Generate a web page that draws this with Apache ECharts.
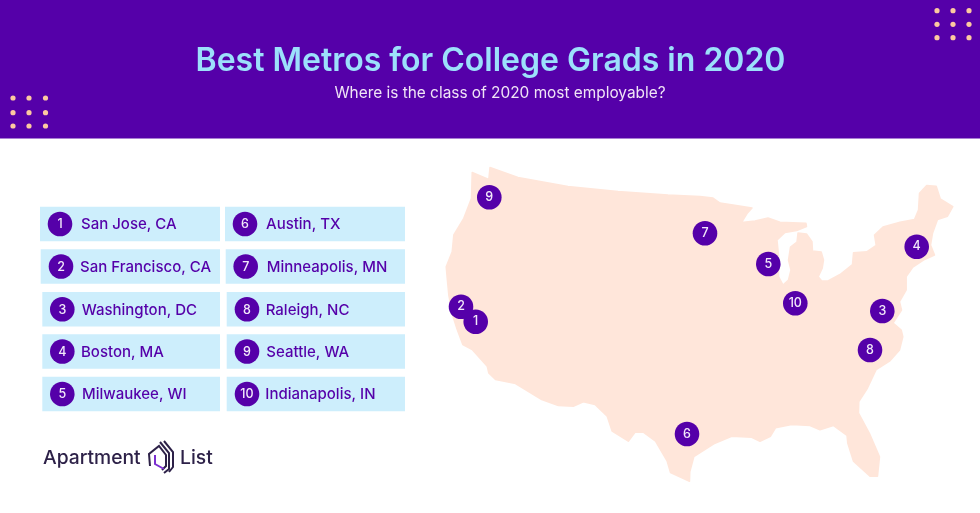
<!DOCTYPE html>
<html>
<head>
    <title>Best Metros for College Grads in 2020</title>
    <meta charset="utf-8">
    <script src="https://cdn.jsdelivr.net/npm/echarts@6/dist/echarts.min.js"></script>
</head>
<body style="margin: 0; background: #fff">
<div id="container" style="width: 980px; height: 513px"></div>
<script type="text/javascript">
var titleText = 'Best Metros for College Grads in 2020';
var subtitleText = 'Where is the class of 2020 most employable?';
var metroRanks = [1, 2, 3, 4, 5, 6, 7, 8, 9, 10];
var metroNames = ['San Jose, CA', 'San Francisco, CA', 'Washington, DC', 'Boston, MA', 'Milwaukee, WI',
    'Austin, TX', 'Minneapolis, MN', 'Raleigh, NC', 'Seattle, WA', 'Indianapolis, IN'];
// where each metro sits on the outline below, same map units as usOutline
var metroMapX = [475.7, 461, 882.3, 916.7, 768.3, 687, 705, 870, 489.3, 795.3];
var metroMapY = [321.7, 306.7, 311, 246.7, 264, 434, 233.3, 350, 197.3, 303.3];

// lower 48 outline, clockwise from Puget Sound
var usOutline = [
    [490,167.5],[518,177.5],[568,186.5],[618,191.5],[668,195],[700,196.5],[713,198],[720,203],[733,205],
    [752,208],[747,213.5],[741.5,222.5],[755,221],[768,218],[780,222.2],[806,223.3],[806.5,226.5],
    [796.7,230.5],[785,232.5],[777,240],[778.5,255],[778.5,276.7],[783,285],[788.5,280],[791,270],[788.5,260],[790.5,247],[797,242],
    [798,233],[806.5,234],[812,241.7],[812.5,251],[821.2,252],[823.5,260],[822.2,268.3],[818.2,276.7],
    [821.7,281],[828,281],[840,274.5],[852.5,264.5],[853.5,252.8],[866.7,251.8],[876.2,245.5],[874.5,235],[883,227],
    [900,222.2],[914.5,219.5],[918.5,210],[919.5,193.3],[926.7,185.5],[936.2,186.2],[940.2,198.8],[952.8,206.7],[947.5,216.2],
    [937.5,219.5],[932.5,233.3],[930.5,245],[934.5,255],[924.5,259.5],[912.5,267.5],[906.2,276.7],[906.2,290],[899.5,301.7],[901.5,310],
    [893,323],[901.2,330],[902.8,336.7],[899.5,350],[889.5,361.2],[876.2,369.5],[867.5,388],[858.8,401.7],[858.5,413],
    [869.5,433.5],[879.5,456.7],[877.5,476.2],[870,476.2],[853.5,461.2],[847.8,443.3],[847,435.5],[833.3,425.5],[820,429.8],
    [810,425.5],[791.7,424.5],[775.5,427.8],[770.5,436.2],[760,441.2],[751.7,437.2],[731.7,436.2],[713.8,443.8],[693.8,456.7],
    [689.8,471.7],[689.5,481.2],[670.5,472.5],[667.2,461.2],[655.5,441.2],[643.3,432.2],[635,432.2],[628.3,441.2],[612.2,431.2],
    [607.2,416.2],[595,404.5],[583.3,401.8],[573.3,406.2],[558.3,405.5],[541.7,399.5],[515.5,383.5],[495.5,379.5],[488.8,373],
    [487.2,366.2],[472.2,349.5],[462.8,344.5],[457.2,329.5],[452.5,315],[448.8,295],[447.2,278.3],[446.2,266.7],[452.2,251.7],
    [453.8,235],[463.8,218.3],[471.5,198.3],[472.2,172.5],[488.8,179.5],[490,167.5]
];

// list rows: left edge of each panel and badge / text starts, they drift a little in the original
var rowTops = [206.7, 249.3, 292, 334.3, 376.7];
var rowHeight = 34.5;
var leftColX = [40, 40.7, 42.3, 42.3, 42.3];
var rightColX = [225, 225.7, 226.7, 226.7, 226.7];
var badgeX = [60, 61, 62.3, 62.3, 62.3, 245, 245.7, 247, 247, 247];
var labelX = [81, 80, 81.7, 81, 82, 266, 266.7, 265.7, 266.3, 265.3];

var PURPLE = '#5500a9';
var font = 'Inter, sans-serif';

echarts.registerMap('lower48', {
    type: 'FeatureCollection',
    features: [{
        type: 'Feature',
        properties: {name: 'US'},
        geometry: {
            type: 'Polygon',
            coordinates: [usOutline.map(function (p) { return [p[0], -p[1]]; })]
        }
    }]
});

function dotGrid(xs, ys) {
    var out = [];
    xs.forEach(function (x) {
        ys.forEach(function (y) {
            out.push({type: 'circle', shape: {cx: x, cy: y, r: 2.6}, style: {fill: '#fcc9a0'}});
        });
    });
    return out;
}

var graphics = [
    {type: 'rect', shape: {x: 0, y: 0, width: 980, height: 138.5}, style: {fill: PURPLE}},
    {type: 'text', style: {text: titleText, x: 490.5, y: 61, align: 'center', verticalAlign: 'middle',
        font: '600 32px ' + font, fill: '#9ce0fb'}},
    {type: 'text', style: {text: subtitleText, x: 500, y: 93, align: 'center', verticalAlign: 'middle',
        font: '400 15.4px ' + font, fill: '#f0e4f6'}}
];
graphics = graphics.concat(dotGrid([937, 953, 969], [10.7, 24.3, 37.7]));
graphics = graphics.concat(dotGrid([13, 29, 45.5], [98, 112.7, 126]));

metroNames.forEach(function (name, i) {
    var row = i % 5;
    var left = i < 5 ? leftColX[row] : rightColX[row];
    var right = i < 5 ? 220 : 405;
    var cy = rowTops[row] + rowHeight / 2;
    graphics.push({type: 'rect', shape: {x: left, y: rowTops[row], width: right - left, height: rowHeight},
        style: {fill: '#cdeefc'}});
    graphics.push({type: 'circle', shape: {cx: badgeX[i], cy: cy, r: 12.3}, style: {fill: PURPLE}});
    graphics.push({type: 'text', style: {text: String(metroRanks[i]), x: badgeX[i], y: cy + 0.5, align: 'center',
        verticalAlign: 'middle', font: '500 12.5px ' + font, fill: '#f3e9fa'}});
    graphics.push({type: 'text', style: {text: name, x: labelX[i], y: cy + 1, align: 'left', verticalAlign: 'middle',
        font: '500 15px ' + font, fill: PURPLE}});
});

// logo
graphics.push({type: 'text', style: {text: 'Apartment', x: 43, y: 458, align: 'left', verticalAlign: 'middle',
    font: '500 19.3px ' + font, fill: '#2d2148'}});
graphics.push({type: 'text', style: {text: 'List', x: 180, y: 458, align: 'left', verticalAlign: 'middle',
    font: '500 19.3px ' + font, fill: '#2d2148'}});
[
    [[150, 466], [149, 454], [159, 446], [166, 455], [166, 466], [162, 470]],
    [[160, 442], [169, 453], [169, 469], [164, 473]],
    [[164, 441], [173, 452], [173, 467], [169, 472]]
].forEach(function (pts) {
    graphics.push({type: 'polyline', shape: {points: pts},
        style: {stroke: '#2d2148', lineWidth: 2, fill: null}});
});
graphics.push({type: 'polyline', shape: {points: [[155, 455], [155, 464], [164, 469]]},
    style: {stroke: '#7b2fd0', lineWidth: 2, fill: null}});

var option = {
    animation: false,
    backgroundColor: '#ffffff',
    graphic: graphics,
    geo: {
        map: 'lower48',
        roam: false,
        aspectScale: 1,
        left: 440,
        top: 165,
        width: 520,
        height: 320,
        boundingCoords: [[440, -165], [960, -485]],
        silent: true,
        label: {show: false},
        // same colour border with round joins softens the traced corners
        itemStyle: {areaColor: '#ffe6da', borderColor: '#ffe6da', borderWidth: 1.5, borderJoin: 'round'}
    },
    series: [{
        type: 'scatter',
        coordinateSystem: 'geo',
        symbol: 'circle',
        symbolSize: 24.6,
        itemStyle: {color: PURPLE, opacity: 1},
        label: {
            show: true,
            position: 'inside',
            formatter: '{@[2]}',
            color: '#f3e9fa',
            fontFamily: 'Inter',
            fontWeight: 500,
            fontSize: 12.5
        },
        data: metroRanks.map(function (rank, i) {
            return {name: metroNames[i], value: [metroMapX[i], -metroMapY[i], rank]};
        })
    }]
};

var myChart = echarts.init(document.getElementById('container'));
myChart.setOption(option);
</script>
</body>
</html>
